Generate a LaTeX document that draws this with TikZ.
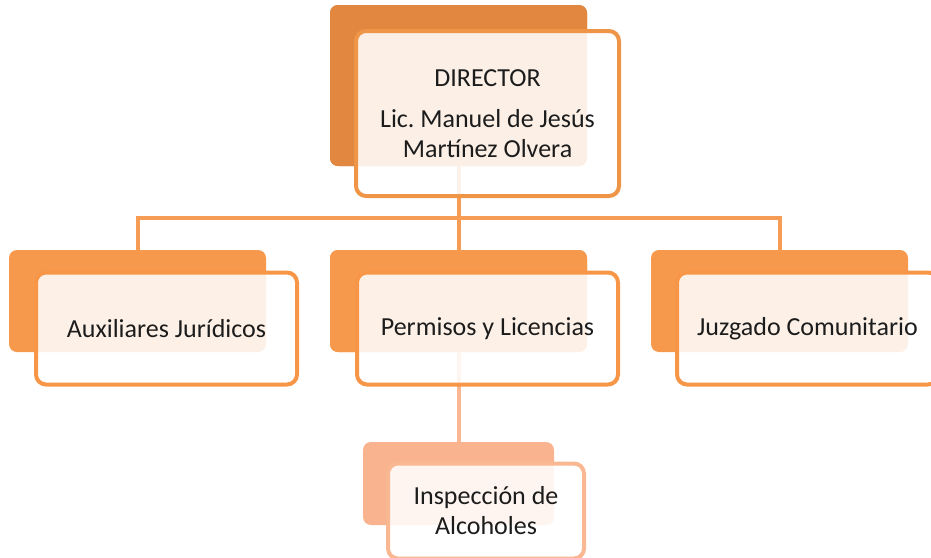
\documentclass[tikz,border=0pt]{standalone}
\usepackage{fontspec}
\setmainfont{Carlito}
\frenchspacing
\definecolor{dirback}{HTML}{E1873F}
\definecolor{dirline}{HTML}{EE9548}
\definecolor{lvback}{HTML}{F7994D}
\definecolor{lvline}{HTML}{F79646}
\definecolor{insback}{HTML}{F9B38E}
\definecolor{insline}{HTML}{F9B792}
\definecolor{conn}{HTML}{F79C55}
\definecolor{connlight}{HTML}{F9B893}
\definecolor{txt}{HTML}{1C1C1C}
\tikzset{
  backbox/.style={rectangle, rounded corners=8pt, draw=none, inner sep=0pt},
  frontbox/.style={rectangle, rounded corners=10pt, line width=4pt, fill=white, fill opacity=0.87, text opacity=1,
    inner sep=0pt, align=center, text=txt, font=\fontsize{26}{30}\selectfont},
  connline/.style={line width=4pt, draw=conn},
}
\begin{document}
\begin{tikzpicture}[x=1pt,y=-1pt]
\useasboundingbox (0,0) rectangle (931,557);
\clip (0,0) rectangle (931,557);
% back boxes
\node[backbox, fill=dirback, minimum width=257pt, minimum height=161pt] (dirb) at (458.5,85.5) {};
\node[backbox, fill=lvback, minimum width=257pt, minimum height=102pt] (auxb) at (137.5,301) {};
\node[backbox, fill=lvback, minimum width=257pt, minimum height=102pt] (perb) at (458.5,301) {};
\node[backbox, fill=lvback, minimum width=257pt, minimum height=102pt] (juzb) at (779.5,301) {};
\node[backbox, fill=insback, minimum width=191pt, minimum height=83pt] (insb) at (458.5,483.5) {};
% connectors
\coordinate (bus) at (458.5,218);
\draw[connline] (dirb.center) -- (bus);
\draw[connline] (auxb.north) |- (bus) -| (juzb.north);
\draw[connline] (bus) -- (perb.north);
\draw[line width=4pt, draw=connlight] (perb.center) -- (insb.north);
% redraw back boxes over connector starts
\node[backbox, fill=dirback, minimum width=257pt, minimum height=161pt] at (dirb) {};
\node[backbox, fill=lvback, minimum width=257pt, minimum height=102pt] at (perb) {};
% front boxes
\node[frontbox, draw=dirline, minimum width=263pt, minimum height=165pt] (dir) at (487.5,113.5)
  {DIRECTOR\\[11pt]Lic. Manuel de Jesús\\Martínez Olvera};
\node[frontbox, draw=lvline, minimum width=261pt, minimum height=112pt] (aux) at (166.5,328.5) {Auxiliares Jurídicos};
\node[frontbox, draw=lvline, minimum width=261pt, minimum height=112pt] (per) at (487.5,328.5) {Permisos y Licencias};
\node[frontbox, draw=lvline, minimum width=261pt, minimum height=112pt] (juz) at (807.5,328.5) {Juzgado Comunitario};
\node[frontbox, draw=insline, minimum width=196pt, minimum height=95pt] (ins) at (486,511) {Inspección de\\Alcoholes};
\end{tikzpicture}
\end{document}
